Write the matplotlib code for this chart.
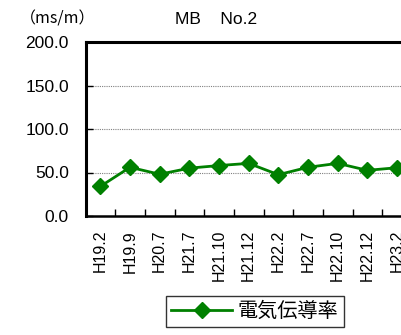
import matplotlib
matplotlib.use('Agg')
import matplotlib.pyplot as plt
import numpy as np

plt.rcParams['font.family'] = ['Liberation Sans', 'Noto Sans CJK JP', 'DejaVu Sans']

labels = ['H19.2', 'H19.9', 'H20.7', 'H21.7', 'H21.10', 'H21.12',
          'H22.2', 'H22.7', 'H22.10', 'H22.12', 'H23.2']
ec = [34, 56, 48, 55, 58, 60.5, 47.5, 56, 60.5, 52.5, 55.5]

fig = plt.figure(figsize=(4.01, 3.35), dpi=100)
# axes run past the right edge of the figure
ax = fig.add_axes([85.5/401, 119/335, 356/401, 174/335])

x = np.arange(len(labels))
ax.plot(x, ec, color='#008000', lw=2, marker='D', ms=8.3, mew=1,
        markerfacecolor='#008000', markeredgecolor='#008000', label='電気伝導率')

ax.set_ylim(0, 200)
ax.set_yticks([0, 50, 100, 150, 200])
ax.set_yticklabels(['%.1f' % v for v in [0, 50, 100, 150, 200]], fontsize=12.5)
ax.set_xlim(-0.5, 11.5)
ax.set_xticks(x)
ax.set_xticklabels(labels, rotation=90, fontsize=11.5)
ax.set_xticks(np.arange(0.5, 11.5, 1), minor=True)
ax.tick_params(axis='x', which='major', length=0, pad=10)
ax.tick_params(axis='x', which='minor', direction='in', length=5, width=1)
ax.tick_params(axis='y', direction='in', length=5, width=1, pad=12)

for v in [50, 100, 150]:
    ax.axhline(v, color='#808080', lw=0.8, ls=(0, (1, 1)), zorder=0)

ax.spines['left'].set_linewidth(2.2)
ax.spines['top'].set_linewidth(2.2)
ax.spines['bottom'].set_linewidth(1.8)
ax.spines['right'].set_visible(False)

fig.text(20/401, 1 - 19/335, '（ms/m）', fontsize=11.5, va='center', ha='left',
         family=['Noto Sans CJK JP'])
fig.text(216/401, 1 - 19/335, 'MB    No.2', fontsize=12.5, va='center', ha='center')

leg = fig.legend(loc='center', bbox_to_anchor=(255/401, 1 - 311.5/335),
                 fontsize=14.5, frameon=True, fancybox=False, edgecolor='black',
                 handlelength=3.0, borderpad=0.25, handletextpad=0.3,
                 borderaxespad=0)
leg.get_frame().set_linewidth(1)
for t in leg.get_texts():
    t.set_family(['Noto Sans CJK JP'])

fig.savefig('out.png', dpi=100)
